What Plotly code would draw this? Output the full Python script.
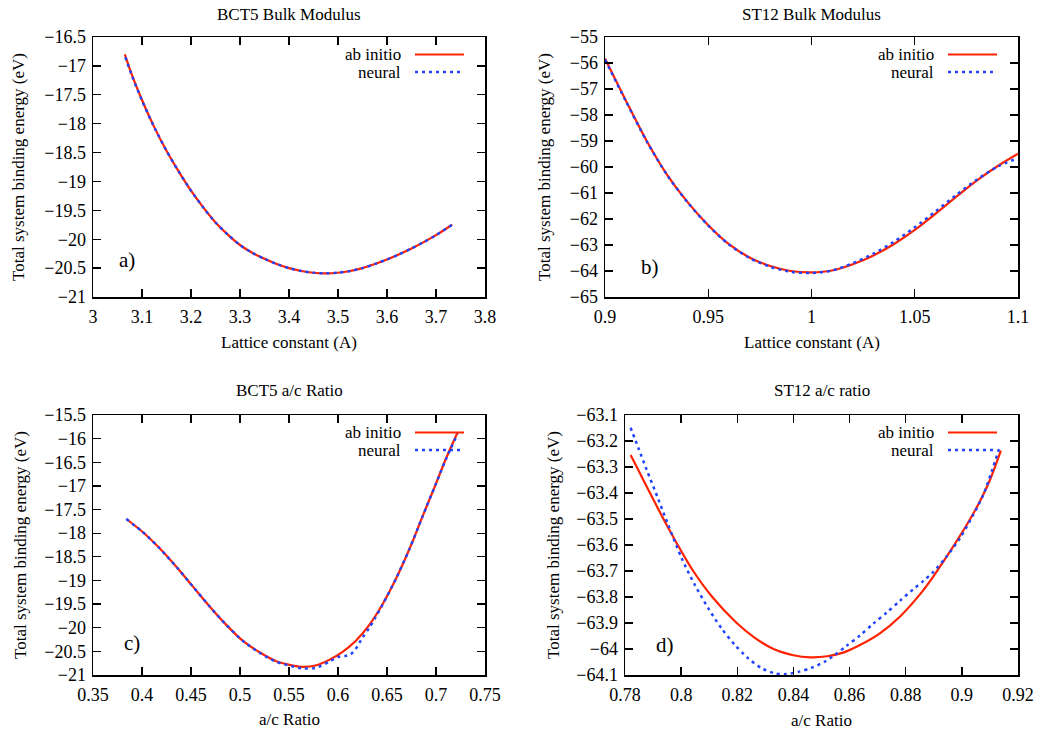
import plotly.graph_objects as go

# ---------------- data ----------------
titles = ["BCT5 Bulk Modulus", "ST12 Bulk Modulus", "BCT5 a/c Ratio", "ST12 a/c ratio"]
x_titles = ["Lattice constant (A)", "Lattice constant (A)", "a/c Ratio", "a/c Ratio"]
y_title = "Total system binding energy (eV)"
panel_tags = ["a)", "b)", "c)", "d)"]
series_names = ["ab initio", "neural"]

# a) BCT5 bulk modulus
a_x = [3.065, 3.08, 3.1, 3.125, 3.15, 3.175, 3.2, 3.225, 3.25, 3.275, 3.3, 3.325, 3.35,
       3.375, 3.4, 3.425, 3.45, 3.475, 3.5, 3.525, 3.55, 3.575, 3.6, 3.625, 3.65, 3.675,
       3.7, 3.733]
a_abinitio = [-16.80, -17.17, -17.59, -18.06, -18.47, -18.83, -19.16, -19.45, -19.71, -19.92,
              -20.10, -20.235, -20.34, -20.43, -20.50, -20.55, -20.58, -20.59, -20.58, -20.55,
              -20.50, -20.43, -20.35, -20.26, -20.16, -20.05, -19.93, -19.75]
a_neural_x = [3.066, 3.08, 3.1, 3.125, 3.15, 3.175, 3.2, 3.225, 3.25, 3.275, 3.3, 3.325, 3.35,
              3.375, 3.4, 3.425, 3.45, 3.475, 3.5, 3.525, 3.55, 3.575, 3.6, 3.625, 3.65, 3.675,
              3.7, 3.733]
a_neural = [-16.85, -17.18, -17.60, -18.06, -18.47, -18.83, -19.16, -19.45, -19.71, -19.92,
            -20.10, -20.235, -20.34, -20.43, -20.50, -20.55, -20.58, -20.59, -20.58, -20.55,
            -20.50, -20.43, -20.35, -20.26, -20.16, -20.05, -19.93, -19.75]

# b) ST12 bulk modulus
b_x = [0.9, 0.91, 0.92, 0.93, 0.94, 0.95, 0.96, 0.97, 0.98, 0.99, 1.0, 1.01, 1.02, 1.03,
       1.04, 1.05, 1.06, 1.07, 1.08, 1.09, 1.1]
b_abinitio = [-55.83, -57.43, -58.97, -60.29, -61.35, -62.24, -62.97, -63.48, -63.81, -64.00,
              -64.05, -63.98, -63.74, -63.40, -62.96, -62.42, -61.80, -61.15, -60.52, -59.97,
              -59.49]
b_neural_x = [0.9, 0.91, 0.92, 0.93, 0.94, 0.95, 0.96, 0.97, 0.98, 0.99, 1.0, 1.01, 1.02, 1.03,
              1.04, 1.05, 1.06, 1.07, 1.08, 1.09, 1.098]
b_neural = [-55.87, -57.45, -58.98, -60.30, -61.36, -62.25, -62.98, -63.50, -63.84, -64.03,
            -64.08, -63.98, -63.70, -63.33, -62.87, -62.32, -61.71, -61.08, -60.49, -59.99,
            -59.72]

# c) BCT5 a/c ratio
c_x = [0.384, 0.401, 0.418, 0.435, 0.452, 0.469, 0.486, 0.503, 0.520, 0.537, 0.554, 0.564,
       0.577, 0.591, 0.604, 0.618, 0.632, 0.645, 0.659, 0.673, 0.686, 0.700, 0.710, 0.722]
c_abinitio = [-17.70, -17.98, -18.32, -18.71, -19.13, -19.55, -19.94, -20.28, -20.52, -20.71,
              -20.80, -20.83, -20.80, -20.68, -20.52, -20.28, -19.94, -19.52, -18.97, -18.33,
              -17.66, -16.95, -16.43, -15.87]
c_neural_x = [0.384, 0.401, 0.418, 0.435, 0.452, 0.469, 0.486, 0.503, 0.520, 0.537, 0.554,
              0.564, 0.577, 0.591, 0.600, 0.607, 0.613, 0.618, 0.625, 0.632, 0.638, 0.645,
              0.659, 0.673, 0.686, 0.700, 0.710, 0.722]
c_neural = [-17.70, -17.98, -18.32, -18.71, -19.13, -19.55, -19.94, -20.28, -20.53, -20.72,
            -20.82, -20.86, -20.85, -20.72, -20.62, -20.60, -20.56, -20.45, -20.21, -20.00,
            -19.79, -19.53, -18.97, -18.33, -17.66, -16.95, -16.44, -15.90]

# d) ST12 a/c ratio
d_x = [0.782, 0.7842, 0.7889, 0.7937, 0.7988, 0.8043, 0.8111, 0.8198, 0.8260, 0.8329, 0.840,
       0.846, 0.852, 0.858, 0.8637, 0.8708, 0.8779, 0.885, 0.8886, 0.8922, 0.8969, 0.9017,
       0.9064, 0.910, 0.9139]
d_abinitio = [-63.254, -63.30, -63.40, -63.50, -63.60, -63.70, -63.80, -63.90, -63.955, -64.00,
              -64.024, -64.032, -64.028, -64.013, -63.985, -63.940, -63.876, -63.791, -63.740,
              -63.683, -63.606, -63.523, -63.433, -63.350, -63.237]
d_neural_x = [0.782, 0.7848, 0.7877, 0.7919, 0.7954, 0.8002, 0.8049, 0.8097, 0.8144, 0.8192,
              0.8239, 0.8287, 0.8334, 0.837, 0.8418, 0.8465, 0.8513, 0.8542, 0.8589, 0.8637,
              0.8684, 0.8732, 0.8779, 0.8827, 0.8862, 0.8898, 0.8945, 0.8993, 0.904, 0.9076,
              0.9106, 0.9135]
d_neural = [-63.149, -63.228, -63.310, -63.425, -63.523, -63.651, -63.754, -63.844, -63.921,
            -63.985, -64.036, -64.074, -64.094, -64.097, -64.088, -64.072, -64.048, -64.027,
            -63.988, -63.948, -63.903, -63.860, -63.815, -63.770, -63.739, -63.704, -63.645,
            -63.574, -63.485, -63.408, -63.318, -63.222]

x_ranges = [[3.0, 3.8], [0.9, 1.1], [0.35, 0.75], [0.78, 0.92]]
x_dticks = [0.1, 0.05, 0.05, 0.02]
y_ranges = [[-21.0, -16.5], [-65.0, -55.0], [-21.0, -15.5], [-64.1, -63.1]]
y_dticks = [0.5, 1.0, 0.5, 0.1]

# ---------------- layout geometry (pixels) ----------------
W, H = 1037, 731
boxes = [(93, 485, 37, 297), (605, 1018, 37, 297), (93, 485, 415, 675), (625, 1018, 415, 675)]
ytitle_x = [18, 544, 20, 553]
xtitle_y = [342, 342, 719, 720]
title_y = [15, 15, 390, 390]
tag_offsets = [(34, 37), (45, 30), (39, 32), (40, 30)]

RED = "rgb(255,34,0)"
BLUE = "rgb(34,68,255)"
FONT = "Liberation Serif"


def px(x):
    return x / W


def py(y):
    return 1 - y / H


fig = go.Figure()
data = [
    (a_x, a_abinitio, a_neural_x, a_neural),
    (b_x, b_abinitio, b_neural_x, b_neural),
    (c_x, c_abinitio, c_neural_x, c_neural),
    (d_x, d_abinitio, d_neural_x, d_neural),
]

annotations = []
shapes = []
for i, (xr, yr, xn, yn) in enumerate(data):
    k = "" if i == 0 else str(i + 1)
    fig.add_trace(go.Scatter(x=xr, y=yr, mode="lines", name=series_names[0],
                             line=dict(color=RED, width=2.2, shape="spline", smoothing=0.8),
                             xaxis="x" + k, yaxis="y" + k, showlegend=False))
    fig.add_trace(go.Scatter(x=xn, y=yn, mode="lines", name=series_names[1],
                             line=dict(color=BLUE, width=2.5, dash="3px,4px", shape="spline",
                                       smoothing=0.8),
                             xaxis="x" + k, yaxis="y" + k, showlegend=False))
    x0, x1, y0, y1 = boxes[i]
    axcommon = dict(showline=True, linecolor="black", linewidth=1.5, mirror="ticks",
                    ticks="inside", ticklen=8, tickwidth=1.3, tickcolor="black",
                    showgrid=False, zeroline=False, automargin=False,
                    tickfont=dict(family=FONT, size=18, color="black"))
    fig.update_layout(**{
        "xaxis" + k: dict(domain=[px(x0), px(x1)], range=x_ranges[i], tick0=x_ranges[i][0],
                          dtick=x_dticks[i], anchor="y" + k, ticklabelstandoff=3, **axcommon),
        "yaxis" + k: dict(domain=[py(y1), py(y0)], range=y_ranges[i], tick0=y_ranges[i][0],
                          dtick=y_dticks[i], anchor="x" + k, ticklabelstandoff=2, **axcommon),
    })
    cx = (x0 + x1) / 2
    annotations.append(dict(text=titles[i], x=px(cx), y=py(title_y[i]), xref="paper",
                            yref="paper", showarrow=False, xanchor="center", yanchor="middle",
                            font=dict(family=FONT, size=17, color="black")))
    annotations.append(dict(text=x_titles[i], x=px(cx), y=py(xtitle_y[i]), xref="paper",
                            yref="paper", showarrow=False, xanchor="center", yanchor="middle",
                            font=dict(family=FONT, size=17, color="black")))
    annotations.append(dict(text=y_title, x=px(ytitle_x[i]), y=py((y0 + y1) / 2), xref="paper",
                            yref="paper", showarrow=False, textangle=-90, xanchor="center",
                            yanchor="middle", font=dict(family=FONT, size=17, color="black")))
    ox, oy = tag_offsets[i]
    annotations.append(dict(text=panel_tags[i], x=px(x0 + ox), y=py(y1 - oy), xref="paper",
                            yref="paper", showarrow=False, xanchor="center", yanchor="middle",
                            font=dict(family=FONT, size=21, color="black")))
    # key (text left of sample, gnuplot style)
    for j, (nm, col, dash, lw) in enumerate([(series_names[0], RED, "solid", 2.2),
                                             (series_names[1], BLUE, "3px,4px", 2.5)]):
        ky = y0 + 17.5 + 17.5 * j
        annotations.append(dict(text=nm, x=px(x1 - 82), y=py(ky), xref="paper", yref="paper",
                                showarrow=False, xanchor="right", yanchor="middle",
                                font=dict(family=FONT, size=17, color="black")))
        shapes.append(dict(type="line", xref="paper", yref="paper", x0=px(x1 - 70),
                           x1=px(x1 - 21), y0=py(ky), y1=py(ky),
                           line=dict(color=col, width=lw, dash=dash)))

fig.update_layout(width=W, height=H, margin=dict(l=0, r=0, t=0, b=0),
                  font=dict(family=FONT, size=17, color="black"),
                  paper_bgcolor="white", plot_bgcolor="white", hovermode=False,
                  annotations=annotations, shapes=shapes, showlegend=False)

fig.write_html("out.html", config={"displayModeBar": False, "staticPlot": True},
               post_script="document.body.style.margin='0px';"
                           "document.body.style.overflow='hidden';")
